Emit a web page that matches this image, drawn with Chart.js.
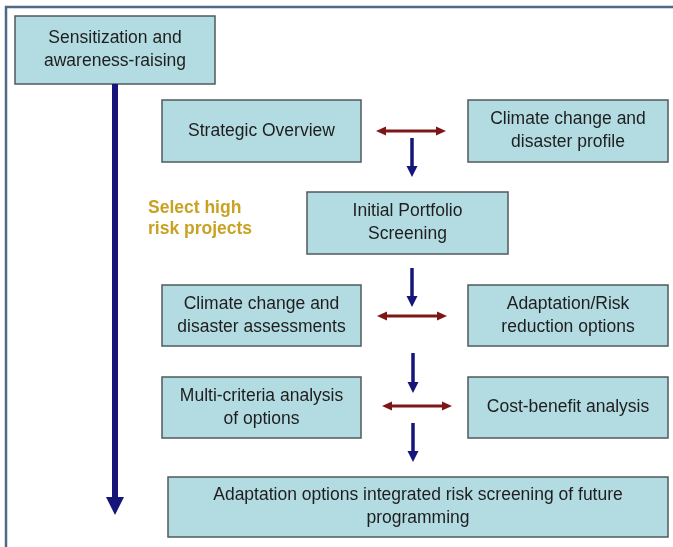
<!DOCTYPE html>
<html lang="en">
<head>
<meta charset="utf-8" />
<title>Risk screening process</title>
<script src="https://cdn.jsdelivr.net/npm/chart.js"></script>
<style>
  html, body { margin: 0; padding: 0; background: #ffffff; }
  .wrap { position: relative; width: 673px; height: 547px; }
</style>
</head>
<body>
<div class="wrap"><canvas id="flow"></canvas></div>
<script>
// Steps of the flow (label lines) and where each box sits, in picture units
const stepLabels = [
  ["Sensitization and", "awareness-raising"],
  ["Strategic Overview"],
  ["Climate change and", "disaster profile"],
  ["Initial Portfolio", "Screening"],
  ["Climate change and", "disaster assessments"],
  ["Adaptation/Risk", "reduction options"],
  ["Multi-criteria analysis", "of options"],
  ["Cost-benefit analysis"],
  ["Adaptation options integrated risk screening of future", "programming"]
];
const boxLeft   = [15, 162, 468, 307, 162, 468, 162, 468, 168];
const boxRight  = [215, 361, 668, 508, 361, 668, 361, 668, 668];
const boxTop    = [16, 100, 100, 192, 285, 285, 377, 377, 477];
const boxBottom = [84, 162, 162, 254, 346, 346, 438, 438, 537];

// one-way arrows (down), two-way arrows (left-right)
const downX     = [115, 412, 412, 413, 413];
const downFrom  = [84, 138, 268, 353, 423];
const downTo    = [515, 177, 307, 393, 462];
const twoWayY    = [131, 316, 406];
const twoWayFrom = [376, 377, 382];
const twoWayTo   = [446, 447, 452];

const noteLines = ["Select high", "risk projects"];
const noteX = 148;
const noteY = [208, 229];

const flowPlugin = {
  id: 'flow',
  afterDatasetsDraw(chart) {
    const ctx = chart.ctx;
    const sx = chart.scales.x, sy = chart.scales.y;
    const X = v => sx.getPixelForValue(v);
    const Y = v => sy.getPixelForValue(v);

    // frame
    ctx.save();
    ctx.strokeStyle = '#4f6a88';
    ctx.lineWidth = 2.5;
    ctx.beginPath();
    ctx.moveTo(X(6), Y(547));
    ctx.lineTo(X(6), Y(7));
    ctx.lineTo(X(673), Y(7));
    ctx.stroke();

    // boxes
    for (let i = 0; i < stepLabels.length; i++) {
      const x0 = X(boxLeft[i]), x1 = X(boxRight[i]);
      const y0 = Y(boxTop[i]), y1 = Y(boxBottom[i]);
      ctx.fillStyle = '#b3dbe2';
      ctx.fillRect(x0, y0, x1 - x0, y1 - y0);
      ctx.strokeStyle = '#505a5c';
      ctx.lineWidth = 1.5;
      ctx.strokeRect(x0, y0, x1 - x0, y1 - y0);
      ctx.fillStyle = '#1e1e1e';
      ctx.font = '17.5px "Liberation Sans", Arial, sans-serif';
      ctx.textAlign = 'center';
      ctx.textBaseline = 'middle';
      const lines = stepLabels[i];
      const cx = (x0 + x1) / 2, cy = (y0 + y1) / 2;
      const lh = 23;
      lines.forEach((t, k) => {
        ctx.fillText(t, cx, cy + (k - (lines.length - 1) / 2) * lh);
      });
    }

    // down arrows
    for (let i = 0; i < downX.length; i++) {
      const big = i === 0;
      const x = X(downX[i]), ya = Y(downFrom[i]), yb = Y(downTo[i]);
      const head = big ? 18 : 11;
      const hw = big ? 9 : 5.5;
      ctx.strokeStyle = '#15157a';
      ctx.fillStyle = '#15157a';
      ctx.lineWidth = big ? 6 : 3.5;
      ctx.beginPath();
      ctx.moveTo(x, ya);
      ctx.lineTo(x, yb - head + 1);
      ctx.stroke();
      ctx.beginPath();
      ctx.moveTo(x - hw, yb - head);
      ctx.lineTo(x + hw, yb - head);
      ctx.lineTo(x, yb);
      ctx.closePath();
      ctx.fill();
    }

    // two-way arrows
    for (let i = 0; i < twoWayY.length; i++) {
      const y = Y(twoWayY[i]), xa = X(twoWayFrom[i]), xb = X(twoWayTo[i]);
      const head = 10, hw = 4.5;
      ctx.strokeStyle = '#7e1616';
      ctx.fillStyle = '#7e1616';
      ctx.lineWidth = 3;
      ctx.beginPath();
      ctx.moveTo(xa + head - 1, y);
      ctx.lineTo(xb - head + 1, y);
      ctx.stroke();
      ctx.beginPath();
      ctx.moveTo(xa, y);
      ctx.lineTo(xa + head, y - hw);
      ctx.lineTo(xa + head, y + hw);
      ctx.closePath();
      ctx.fill();
      ctx.beginPath();
      ctx.moveTo(xb, y);
      ctx.lineTo(xb - head, y - hw);
      ctx.lineTo(xb - head, y + hw);
      ctx.closePath();
      ctx.fill();
    }

    // note
    ctx.fillStyle = '#c9a224';
    ctx.font = 'bold 17.5px "Liberation Sans", Arial, sans-serif';
    ctx.textAlign = 'left';
    ctx.textBaseline = 'middle';
    noteLines.forEach((t, k) => ctx.fillText(t, X(noteX), Y(noteY[k])));
    ctx.restore();
  }
};

new Chart(document.getElementById('flow'), {
  type: 'scatter',
  data: { datasets: [{ data: [], pointRadius: 0 }] },
  options: {
    responsive: true,
    maintainAspectRatio: false,
    animation: false,
    layout: { padding: 0 },
    plugins: { legend: { display: false }, tooltip: { enabled: false } },
    scales: {
      x: { type: 'linear', min: 0, max: 673, display: false },
      y: { type: 'linear', min: 0, max: 547, reverse: true, display: false }
    }
  },
  plugins: [flowPlugin]
});
</script>
</body>
</html>
